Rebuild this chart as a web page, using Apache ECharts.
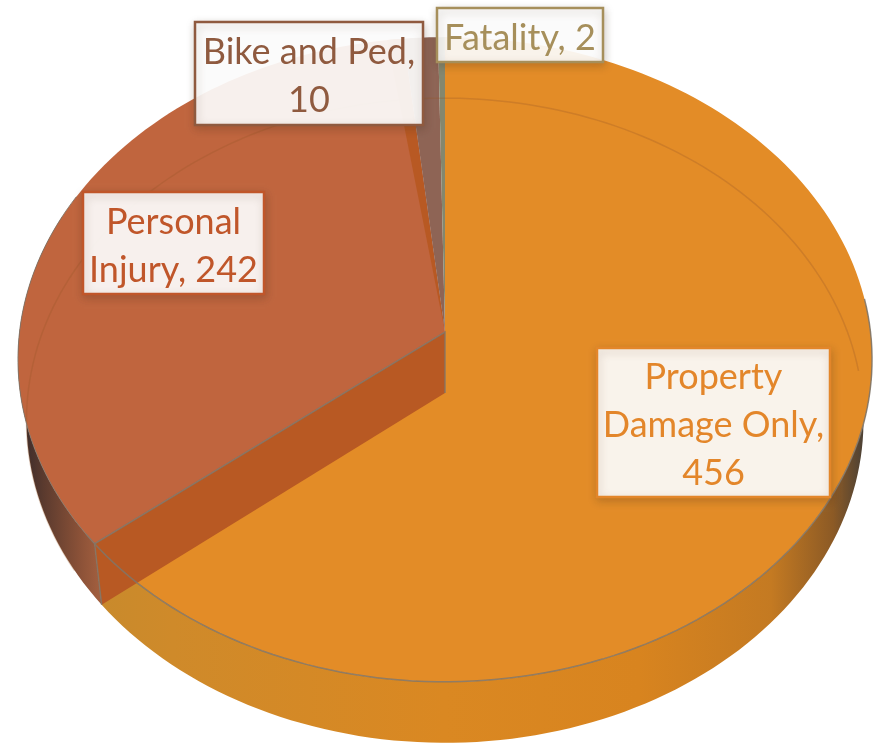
<!DOCTYPE html>
<html>
<head>
<meta charset="utf-8">
<title>Crash severity</title>
<script src="https://cdn.jsdelivr.net/npm/echarts@6/dist/echarts.min.js"></script>
<style>
  html, body { margin: 0; padding: 0; background: #fff; }
  #main { width: 878px; height: 745px; }
</style>
</head>
<body>
<div id="main"></div>
<script>
// chart data, clockwise from 12 o'clock
const categories = ['Property\nDamage Only', 'Personal\nInjury', 'Bike and Ped', 'Fatality']
const values = [456, 242, 10, 2]
const separators = [',\n', ', ', ',\n', ', ']

// look of each slice
const faceColors = ['#e38c27', '#c0653e', '#8e6455', '#84876e']
const labelColors = ['#e3862a', '#c0562a', '#8f5a3f', '#a68f5b']
const labelBoxes = [
  { x: 597, y: 348, w: 233, h: 149 },
  { x: 83, y: 192, w: 181, h: 102 },
  { x: 195, y: 22, w: 228, h: 103 },
  { x: 437, y: 8, w: 166, h: 54 }
]

// pie geometry, a tilted disc seen in perspective
const cx = 445
const cy = 332
const radiusX = 425.5
const radiusY = 320
const persp = 0.0852
const depth = 61
const bottomScale = 0.98

const total = values.reduce((a, b) => a + b, 0)
const angles = [0]
values.forEach((v, i) => angles.push(angles[i] + v / total * 360))

function project (deg, level) {
  const t = deg * Math.PI / 180
  const u = Math.sin(t)
  const v = -Math.cos(t)
  const w = 1 - persp * v
  const sx = level ? bottomScale : 1
  return [cx + radiusX * sx * u / w, cy + depth * level + radiusY * v / w]
}

function arc (from, to, level) {
  const pts = []
  const n = Math.max(2, Math.ceil(Math.abs(to - from) / 1.5))
  for (let i = 0; i <= n; i++) {
    pts.push(project(from + (to - from) * i / n, level))
  }
  return pts
}

function hGradient (stops) {
  return {
    type: 'linear', x: 0, y: 0, x2: 1, y2: 0,
    colorStops: stops.map(s => ({ offset: s[0], color: s[1] }))
  }
}

const sideGradients = [
  hGradient([[0, '#c88a2c'], [0.1, '#cf8a2a'], [0.45, '#da8822'], [0.7, '#d8841f'], [0.87, '#c47a22'], [0.95, '#8c5a25'], [1, '#3a3a3a']]),
  hGradient([[0, '#33272a'], [0.3, '#5a3a2e'], [0.75, '#8c5238'], [1, '#a5603f']])
]

// outer wall of the disc
function renderSide (params, api) {
  const i = params.dataIndex
  if (i > 1) return { type: 'group', children: [] }
  const from = i === 0 ? 85 : angles[1]
  const to = i === 0 ? angles[1] : 292
  const pts = arc(from, to, 0).concat(arc(from, to, 1).reverse())
  return {
    type: 'polygon',
    shape: { points: pts },
    style: { fill: sideGradients[i] }
  }
}

// top faces, the cut wall and the thin rim lines
function renderTop (params, api) {
  const i = params.dataIndex
  const a0 = angles[i]
  const a1 = a0 + api.value(0) / total * 360
  const children = []
  const center = [cx, cy]
  const centerLow = [cx, cy + depth]
  const edge = 'rgba(128,118,105,0.85)'

  if (i === 1) {
    // cut wall, painted over the property face
    children.push({
      type: 'polygon',
      shape: { points: [center, centerLow, project(a0, 1), project(a0, 0)] },
      style: { fill: '#b85923' }
    })
  }
  children.push({
    type: 'polygon',
    shape: { points: [center].concat(arc(a0, a1, 0)) },
    style: { fill: faceColors[i] }
  })
  if (i === 1) {
    // darker sliver along the far cut
    children.push({
      type: 'polygon',
      shape: { points: [center].concat(arc(a1 - 2.4, a1, 0)) },
      style: { fill: '#b85923' }
    })
    children.push({
      type: 'polyline',
      shape: { points: [project(a0, 1), project(a0, 0), center, centerLow] },
      style: { fill: 'none', stroke: edge, lineWidth: 1.5 }
    })
  }
  if (i === 3) {
    // bottom rim showing through the faces, then the front rim of the top
    children.push({
      type: 'polyline',
      shape: { points: arc(-122, 86, 1) },
      style: { fill: 'none', stroke: 'rgba(150,85,40,0.28)', lineWidth: 1.5 }
    })
    children.push({
      type: 'polyline',
      shape: { points: arc(84, angles[1] + 2, 0) },
      style: { fill: 'none', stroke: edge, lineWidth: 1.5 }
    })
    children.push({
      type: 'polyline',
      shape: { points: arc(angles[1] + 2, 296, 0) },
      style: { fill: 'none', stroke: edge, lineWidth: 1 }
    })
  }
  return { type: 'group', children: children }
}

function renderLabel (params, api) {
  const i = params.dataIndex
  const box = labelBoxes[i]
  return {
    type: 'group',
    children: [
      {
        type: 'rect',
        shape: { x: box.x, y: box.y, width: box.w, height: box.h },
        style: {
          fill: 'rgba(255,255,255,0.91)',
          stroke: labelColors[i],
          lineWidth: 2.5,
          shadowBlur: 8,
          shadowOffsetX: 1,
          shadowOffsetY: 3,
          shadowColor: 'rgba(70,50,30,0.25)'
        }
      },
      {
        type: 'text',
        x: box.x + box.w / 2,
        y: box.y + box.h / 2 + 3,
        style: {
          text: categories[i] + separators[i] + api.value(0),
          fill: labelColors[i],
          font: '36px Lato, "Open Sans", sans-serif',
          lineHeight: 48,
          align: 'center',
          verticalAlign: 'middle'
        }
      }
    ]
  }
}

const chart = echarts.init(document.getElementById('main'))
const base = { type: 'custom', coordinateSystem: 'none', data: values, silent: true, animation: false }
const option = {
  backgroundColor: '#fff',
  animation: false,
  series: [
    Object.assign({}, base, { z: 1, renderItem: renderSide }),
    Object.assign({}, base, { z: 2, renderItem: renderTop }),
    Object.assign({}, base, { z: 3, renderItem: renderLabel })
  ]
}
option && chart.setOption(option)
</script>
</body>
</html>
